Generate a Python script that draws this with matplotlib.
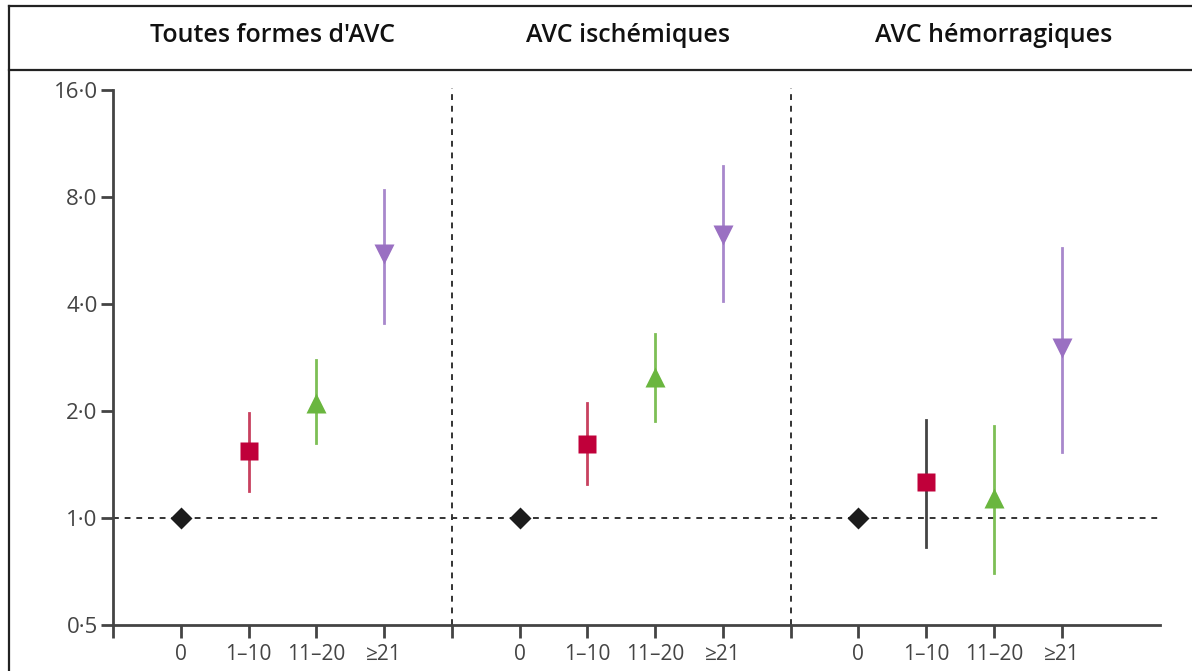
import matplotlib.pyplot as plt
from matplotlib.lines import Line2D

# groups (cigarettes / day) and panels
groups = ["0", "1–10", "11–20", "≥21"]
panels = ["Toutes formes d'AVC", "AVC ischémiques", "AVC hémorragiques"]

# odds ratios and 95% CI, per panel
or_all = [1.0, 1.54, 2.11, 5.53]
lo_all = [None, 1.19, 1.63, 3.53]
hi_all = [None, 1.98, 2.79, 8.38]

or_isch = [1.0, 1.62, 2.49, 6.26]
lo_isch = [None, 1.25, 1.87, 4.07]
hi_isch = [None, 2.11, 3.29, 9.80]

or_hem = [1.0, 1.26, 1.14, 3.00]
lo_hem = [None, 0.83, 0.70, 1.53]
hi_hem = [None, 1.89, 1.82, 5.75]

yticks = [0.5, 1, 2, 4, 8, 16]
ytick_labels = ["0·5", "1·0", "2·0", "4·0", "8·0", "16·0"]

markers = ["D", "s", "^", "v"]
colors = ["#1c1c1c", "#c0003a", "#6ab63f", "#9a70c2"]
ci_colors = [None, "#c8415f", "#7dbf55", "#a888cc"]
ci_colors_hem = [None, "#444444", "#7dbf55", "#a888cc"]
msizes = [11, 13, 14, 14]

plt.rcParams['font.family'] = ['Open Sans', 'DejaVu Sans']

fig = plt.figure(figsize=(11.92, 6.71), dpi=100)

# header box
fig.add_artist(Line2D([9/1192, 1], [1 - 6/671, 1 - 6/671], color="#222", lw=1.6))
fig.add_artist(Line2D([9/1192, 1], [1 - 70/671, 1 - 70/671], color="#222", lw=1.6))
fig.add_artist(Line2D([9/1192, 9/1192], [0, 1 - 6/671], color="#222", lw=1.6))
title_x = [272, 628, 994]
for t, x in zip(panels, title_x):
    fig.text(x/1192, 1 - 36/671, t, ha="center", va="center", fontsize=18,
             fontweight="semibold", color="#111")

ax = fig.add_axes([113/1192, 1 - 625/671, (1160 - 113)/1192, (625 - 90)/671])
ax.set_yscale("log", base=2)
ax.set_ylim(0.5, 16)
ax.set_xlim(0, 15.45)

data = [(or_all, lo_all, hi_all, ci_colors),
        (or_isch, lo_isch, hi_isch, ci_colors),
        (or_hem, lo_hem, hi_hem, ci_colors_hem)]

ax.axhline(1, color="#333", lw=1.4, ls=(0, (3, 3)), zorder=1)
for xv in [5, 10]:
    ax.plot([xv, xv], [0.5, 16.2], color="#333", lw=1.4, ls=(0, (3, 3)),
            clip_on=False, zorder=1)

xpos = []
xlabels = []
for p, (vals, los, his, cic) in enumerate(data):
    for i, g in enumerate(groups):
        x = p*5 + 1 + i
        xpos.append(x)
        xlabels.append(g)
        if los[i] is not None:
            ax.plot([x, x], [los[i], his[i]], color=cic[i], lw=2, zorder=2)
        ax.plot(x, vals[i], marker=markers[i], color=colors[i], ms=msizes[i],
                mec="none", zorder=3, ls="none")

ticks = [0] + xpos[:4] + [5] + xpos[4:8] + [10] + xpos[8:]
labels = [""] + xlabels[:4] + [""] + xlabels[4:8] + [""] + xlabels[8:]
ax.set_xticks(ticks)
ax.set_xticklabels(labels)
ax.set_yticks(yticks)
ax.set_yticklabels(ytick_labels)
ax.minorticks_off()

for s in ["top", "right"]:
    ax.spines[s].set_visible(False)
for s in ["left", "bottom"]:
    ax.spines[s].set_color("#444")
    ax.spines[s].set_linewidth(2)
ax.tick_params(axis="both", colors="#444", width=2, length=9,
               labelcolor="#444")
ax.tick_params(axis="y", pad=2, labelsize=16)
ax.tick_params(axis="x", pad=5, labelsize=15)

fig.savefig("out.png", dpi=100)
